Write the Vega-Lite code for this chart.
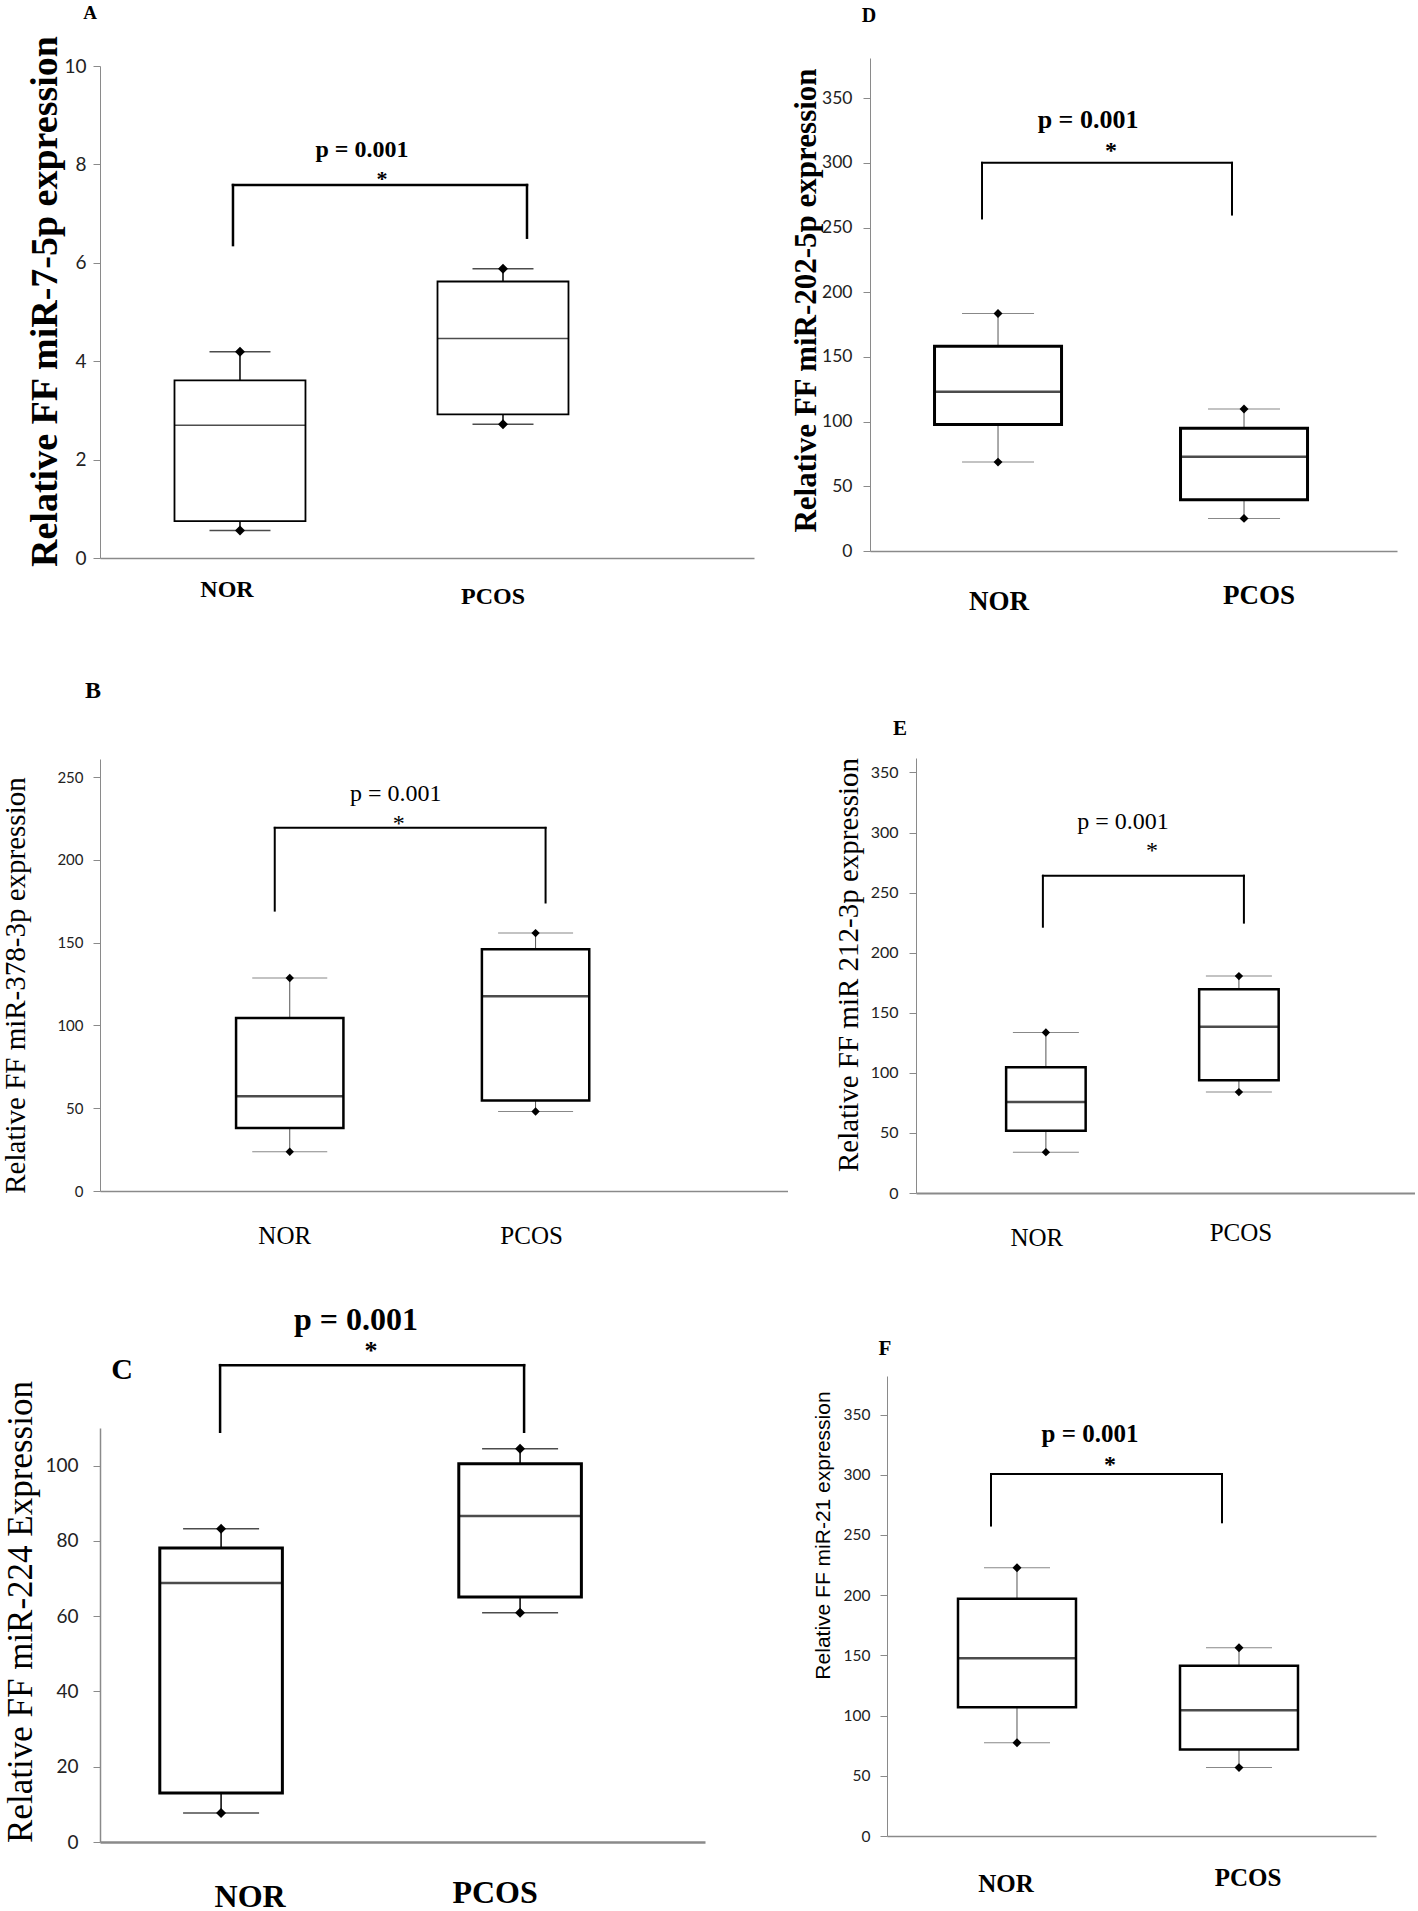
{
"$schema": "https://vega.github.io/schema/vega-lite/v6.json",
"background": "white",
"padding": 0,
"config": {"view": {"stroke": null}, "axis": {"grid": false}},
"datasets": {
"boxA": [{"group":"NOR","low":0.56,"q1":0.75,"median":2.7,"q3":3.61,"high":4.19},{"group":"PCOS","low":2.72,"q1":2.92,"median":4.46,"q3":5.62,"high":5.88}],
"sigA": [{"group":"NOR","group2":"PCOS","top":7.58,"legL":6.36,"legR":6.51,"pY":8.3,"starY":7.7,"label":"p = 0.001"}],
"boxB": [{"group":"NOR","low":23.7,"q1":38,"median":57.2,"q3":104.5,"high":128.7},{"group":"PCOS","low":48,"q1":54.7,"median":117.6,"q3":146,"high":155.8}],
"sigB": [{"group":"NOR","group2":"PCOS","top":219.4,"legL":169.4,"legR":174.3,"pY":239.6,"starY":222,"label":"p = 0.001"}],
"boxC": [{"group":"NOR","low":7.7,"q1":13,"median":68.8,"q3":78.1,"high":83.2},{"group":"PCOS","low":60.9,"q1":65.1,"median":86.6,"q3":100.5,"high":104.5}],
"sigC": [{"group":"NOR","group2":"PCOS","top":126.7,"legL":109,"legR":109,"pY":138.8,"starY":130.5,"label":"p = 0.001"}],
"boxD": [{"group":"NOR","low":68.7,"q1":97.7,"median":123,"q3":158.3,"high":183.5},{"group":"PCOS","low":25.2,"q1":39.7,"median":72.8,"q3":94.9,"high":109.7}],
"sigD": [{"group":"NOR","group2":"PCOS","top":300,"legL":257,"legR":260,"pY":333,"starY":309,"label":"p = 0.001"}],
"boxE": [{"group":"NOR","low":34,"q1":51.7,"median":75.8,"q3":104.7,"high":133.6},{"group":"PCOS","low":84,"q1":93.8,"median":138.3,"q3":169.6,"high":180.5}],
"sigE": [{"group":"NOR","group2":"PCOS","top":264,"legL":221.6,"legR":225,"pY":308.6,"starY":285,"label":"p = 0.001"}],
"boxF": [{"group":"NOR","low":77.5,"q1":106.9,"median":147.6,"q3":197,"high":222.8},{"group":"PCOS","low":56.8,"q1":71.8,"median":104.5,"q3":141.3,"high":156.3}],
"sigF": [{"group":"NOR","group2":"PCOS","top":300.6,"legL":257.8,"legR":260.5,"pY":334,"starY":308,"label":"p = 0.001"}]
},
"spacing": 0,
"hconcat": [
{"spacing": 0, "vconcat": [
{"width": 1, "height": 2.5, "data": {"values": []}, "mark": "point", "encoding": {}},
{"width":654,"height":492,
"title":{"text":"A","anchor":"start","frame":"group","align":"center","baseline":"middle","dx":-10,"offset":3,"font":"Liberation Serif","fontWeight":"bold","fontSize":19,"color":"black"},
"encoding":{"x":{"field":"group","type":"nominal","sort":null,"scale":{"type":"band","domain":["NOR","PCOS"],"paddingInner":0.502,"paddingOuter":0.4943,"align":0.2865},"axis":{"title":null,"labelAngle":0,"ticks":false,"tickSize":0,"domainColor":"#8a8a8a","domainWidth":1.5,"labelFont":"Liberation Serif","labelFontWeight":"bold","labelFontSize":24,"labelColor":"black","labelBaseline":"middle","labelAlign":"center","labelPadding":{"condition":{"test":"datum.value === 'NOR'","value":31},"value":38},"labelOffset":{"condition":{"test":"datum.value === 'NOR'","value":-13},"value":-10}}}},
"layer":[
{"data":{"name":"boxA"},"mark":{"type":"rule","color":"black","strokeWidth":1.5},"encoding":{"y":{"field":"low","type":"quantitative","scale":{"domain":[0,10],"nice":false},"axis":{"values":[0,2,4,6,8,10],"title":"Relative FF miR-7-5p expression","titleFont":"Liberation Serif","titleFontWeight":"bold","titleFontSize":38,"titleColor":"black","titleX":-55,"titleY":235,"titleAngle":-90,"titleAlign":"center","titleBaseline":"middle","labelFont":"Lato","labelFontSize":19,"labelColor":"#222","labelPadding":7,"tickSize":7,"tickColor":"#8a8a8a","domainColor":"#8a8a8a","domainWidth":1,"grid":false}},"y2":{"field":"high"}}},
{"data":{"name":"boxA"},"mark":{"type":"bar","fill":"white","stroke":"black","strokeWidth":1.8},"encoding":{"y":{"field":"q1","type":"quantitative","scale":{"domain":[0,10],"nice":false}},"y2":{"field":"q3"}}},
{"data":{"name":"boxA"},"mark":{"type":"tick","color":"black","thickness":1.5,"size":131},"encoding":{"y":{"field":"median","type":"quantitative","scale":{"domain":[0,10],"nice":false}}}},
{"data":{"name":"boxA"},"mark":{"type":"tick","color":"black","thickness":1.5,"size":61},"encoding":{"y":{"field":"low","type":"quantitative","scale":{"domain":[0,10],"nice":false}}}},
{"data":{"name":"boxA"},"mark":{"type":"tick","color":"black","thickness":1.5,"size":61},"encoding":{"y":{"field":"high","type":"quantitative","scale":{"domain":[0,10],"nice":false}}}},
{"data":{"name":"boxA"},"mark":{"type":"point","shape":"diamond","filled":true,"color":"black","opacity":1,"size":100},"encoding":{"y":{"field":"low","type":"quantitative","scale":{"domain":[0,10],"nice":false}}}},
{"data":{"name":"boxA"},"mark":{"type":"point","shape":"diamond","filled":true,"color":"black","opacity":1,"size":100},"encoding":{"y":{"field":"high","type":"quantitative","scale":{"domain":[0,10],"nice":false}}}},
{"data":{"name":"sigA"},"mark":{"type":"rule","color":"black","strokeWidth":2.5,"strokeCap":"square","xOffset":-7},"encoding":{"y":{"field":"legL","type":"quantitative","scale":{"domain":[0,10],"nice":false}},"y2":{"field":"top"}}},
{"data":{"name":"sigA"},"mark":{"type":"rule","color":"black","strokeWidth":2.5,"strokeCap":"square","xOffset":24},"encoding":{"x":{"field":"group2","type":"nominal","title":null},"y":{"field":"legR","type":"quantitative","scale":{"domain":[0,10],"nice":false}},"y2":{"field":"top"}}},
{"data":{"name":"sigA"},"mark":{"type":"rule","color":"black","strokeWidth":2.5,"strokeCap":"square","xOffset":-7,"x2Offset":24},"encoding":{"x2":{"field":"group2","title":null},"y":{"field":"top","type":"quantitative","scale":{"domain":[0,10],"nice":false}}}},
{"data":{"name":"sigA"},"mark":{"type":"text","font":"Liberation Serif","fontWeight":"bold","fontSize":24,"dx":122,"align":"center","baseline":"middle","color":"black"},"encoding":{"y":{"field":"pY","type":"quantitative","scale":{"domain":[0,10],"nice":false}},"text":{"field":"label"}}},
{"data":{"name":"sigA"},"mark":{"type":"text","font":"Liberation Serif","fontWeight":"bold","fontSize":22,"dx":142,"align":"center","baseline":"middle","color":"black"},"encoding":{"y":{"field":"starY","type":"quantitative","scale":{"domain":[0,10],"nice":false}},"text":{"value":"*"}}}
]},
{"width": 1, "height": 69.5, "data": {"values": []}, "mark": "point", "encoding": {}},
{"width":687.5,"height":432,
"title":{"text":"B","anchor":"start","frame":"group","align":"center","baseline":"middle","dx":-7,"offset":44.5,"font":"Liberation Serif","fontWeight":"bold","fontSize":24,"color":"black"},
"encoding":{"x":{"field":"group","type":"nominal","sort":null,"scale":{"type":"band","domain":["NOR","PCOS"],"paddingInner":0.5633,"paddingOuter":0.68,"align":0.407},"axis":{"title":null,"labelAngle":0,"ticks":false,"tickSize":0,"domainColor":"#8a8a8a","domainWidth":1.5,"labelFont":"Liberation Serif","labelFontWeight":"normal","labelFontSize":25,"labelColor":"black","labelBaseline":"middle","labelAlign":"center","labelPadding":44,"labelOffset":{"condition":{"test":"datum.value === 'NOR'","value":-5},"value":-4}}}},
"layer":[
{"data":{"name":"boxB"},"mark":{"type":"rule","color":"#555","strokeWidth":1},"encoding":{"y":{"field":"low","type":"quantitative","scale":{"domain":[0,261],"nice":false},"axis":{"values":[0,50,100,150,200,250],"title":"Relative FF miR-378-3p expression","titleFont":"Liberation Serif","titleFontWeight":"normal","titleFontSize":29,"titleColor":"black","titleX":-85,"titleY":226,"titleAngle":-90,"titleAlign":"center","titleBaseline":"middle","labelFont":"Lato","labelFontSize":15,"labelColor":"#222","labelPadding":10,"tickSize":7,"tickColor":"#8a8a8a","domainColor":"#8a8a8a","domainWidth":1,"grid":false}},"y2":{"field":"high"}}},
{"data":{"name":"boxB"},"mark":{"type":"bar","fill":"white","stroke":"black","strokeWidth":2.5},"encoding":{"y":{"field":"q1","type":"quantitative","scale":{"domain":[0,261],"nice":false}},"y2":{"field":"q3"}}},
{"data":{"name":"boxB"},"mark":{"type":"tick","color":"black","thickness":2.5,"size":107},"encoding":{"y":{"field":"median","type":"quantitative","scale":{"domain":[0,261],"nice":false}}}},
{"data":{"name":"boxB"},"mark":{"type":"tick","color":"#555","thickness":1,"size":75},"encoding":{"y":{"field":"low","type":"quantitative","scale":{"domain":[0,261],"nice":false}}}},
{"data":{"name":"boxB"},"mark":{"type":"tick","color":"#555","thickness":1,"size":75},"encoding":{"y":{"field":"high","type":"quantitative","scale":{"domain":[0,261],"nice":false}}}},
{"data":{"name":"boxB"},"mark":{"type":"point","shape":"diamond","filled":true,"color":"black","opacity":1,"size":70},"encoding":{"y":{"field":"low","type":"quantitative","scale":{"domain":[0,261],"nice":false}}}},
{"data":{"name":"boxB"},"mark":{"type":"point","shape":"diamond","filled":true,"color":"black","opacity":1,"size":70},"encoding":{"y":{"field":"high","type":"quantitative","scale":{"domain":[0,261],"nice":false}}}},
{"data":{"name":"sigB"},"mark":{"type":"rule","color":"black","strokeWidth":2,"strokeCap":"square","xOffset":-15},"encoding":{"y":{"field":"legL","type":"quantitative","scale":{"domain":[0,261],"nice":false}},"y2":{"field":"top"}}},
{"data":{"name":"sigB"},"mark":{"type":"rule","color":"black","strokeWidth":2,"strokeCap":"square","xOffset":10},"encoding":{"x":{"field":"group2","type":"nominal","title":null},"y":{"field":"legR","type":"quantitative","scale":{"domain":[0,261],"nice":false}},"y2":{"field":"top"}}},
{"data":{"name":"sigB"},"mark":{"type":"rule","color":"black","strokeWidth":2,"strokeCap":"square","xOffset":-15,"x2Offset":10},"encoding":{"x2":{"field":"group2","title":null},"y":{"field":"top","type":"quantitative","scale":{"domain":[0,261],"nice":false}}}},
{"data":{"name":"sigB"},"mark":{"type":"text","font":"Liberation Serif","fontWeight":"normal","fontSize":24,"dx":106,"align":"center","baseline":"middle","color":"black"},"encoding":{"y":{"field":"pY","type":"quantitative","scale":{"domain":[0,261],"nice":false}},"text":{"field":"label"}}},
{"data":{"name":"sigB"},"mark":{"type":"text","font":"Liberation Serif","fontWeight":"normal","fontSize":24,"dx":109,"align":"center","baseline":"middle","color":"black"},"encoding":{"y":{"field":"starY","type":"quantitative","scale":{"domain":[0,261],"nice":false}},"text":{"value":"*"}}}
]},
{"width": 1, "height": 55, "data": {"values": []}, "mark": "point", "encoding": {}},
{"width":605,"height":414,
"title":{"text":"C","anchor":"start","frame":"group","align":"center","baseline":"middle","dx":22,"offset":-96,"font":"Liberation Serif","fontWeight":"bold","fontSize":30,"color":"black"},
"encoding":{"x":{"field":"group","type":"nominal","sort":null,"scale":{"type":"band","domain":["NOR","PCOS"],"paddingInner":0.59,"paddingOuter":0.3067,"align":0.326},"axis":{"title":null,"labelAngle":0,"ticks":false,"tickSize":0,"domainColor":"#8a8a8a","domainWidth":2.5,"labelFont":"Liberation Serif","labelFontWeight":"bold","labelFontSize":32,"labelColor":"black","labelBaseline":"middle","labelAlign":"center","labelPadding":{"condition":{"test":"datum.value === 'NOR'","value":54},"value":50},"labelOffset":{"condition":{"test":"datum.value === 'NOR'","value":29},"value":-25}}}},
"layer":[
{"data":{"name":"boxC"},"mark":{"type":"rule","color":"black","strokeWidth":1.5},"encoding":{"y":{"field":"low","type":"quantitative","scale":{"domain":[0,110],"nice":false},"axis":{"values":[0,20,40,60,80,100],"title":"Relative FF miR-224 Expression","titleFont":"Liberation Serif","titleFontWeight":"normal","titleFontSize":35,"titleColor":"black","titleX":-80,"titleY":183.5,"titleAngle":-90,"titleAlign":"center","titleBaseline":"middle","labelFont":"Lato","labelFontSize":19,"labelColor":"#222","labelPadding":15,"tickSize":7,"tickColor":"#8a8a8a","domainColor":"#8a8a8a","domainWidth":1.5,"grid":false}},"y2":{"field":"high"}}},
{"data":{"name":"boxC"},"mark":{"type":"bar","fill":"white","stroke":"black","strokeWidth":3},"encoding":{"y":{"field":"q1","type":"quantitative","scale":{"domain":[0,110],"nice":false}},"y2":{"field":"q3"}}},
{"data":{"name":"boxC"},"mark":{"type":"tick","color":"black","thickness":2.5,"size":122.5},"encoding":{"y":{"field":"median","type":"quantitative","scale":{"domain":[0,110],"nice":false}}}},
{"data":{"name":"boxC"},"mark":{"type":"tick","color":"black","thickness":1.5,"size":76},"encoding":{"y":{"field":"low","type":"quantitative","scale":{"domain":[0,110],"nice":false}}}},
{"data":{"name":"boxC"},"mark":{"type":"tick","color":"black","thickness":1.5,"size":76},"encoding":{"y":{"field":"high","type":"quantitative","scale":{"domain":[0,110],"nice":false}}}},
{"data":{"name":"boxC"},"mark":{"type":"point","shape":"diamond","filled":true,"color":"black","opacity":1,"size":100},"encoding":{"y":{"field":"low","type":"quantitative","scale":{"domain":[0,110],"nice":false}}}},
{"data":{"name":"boxC"},"mark":{"type":"point","shape":"diamond","filled":true,"color":"black","opacity":1,"size":100},"encoding":{"y":{"field":"high","type":"quantitative","scale":{"domain":[0,110],"nice":false}}}},
{"data":{"name":"sigC"},"mark":{"type":"rule","color":"black","strokeWidth":2.5,"strokeCap":"square","xOffset":-1},"encoding":{"y":{"field":"legL","type":"quantitative","scale":{"domain":[0,110],"nice":false}},"y2":{"field":"top"}}},
{"data":{"name":"sigC"},"mark":{"type":"rule","color":"black","strokeWidth":2.5,"strokeCap":"square","xOffset":4},"encoding":{"x":{"field":"group2","type":"nominal","title":null},"y":{"field":"legR","type":"quantitative","scale":{"domain":[0,110],"nice":false}},"y2":{"field":"top"}}},
{"data":{"name":"sigC"},"mark":{"type":"rule","color":"black","strokeWidth":2.5,"strokeCap":"square","xOffset":-1,"x2Offset":4},"encoding":{"x2":{"field":"group2","title":null},"y":{"field":"top","type":"quantitative","scale":{"domain":[0,110],"nice":false}}}},
{"data":{"name":"sigC"},"mark":{"type":"text","font":"Liberation Serif","fontWeight":"bold","fontSize":32,"dx":135,"align":"center","baseline":"middle","color":"black"},"encoding":{"y":{"field":"pY","type":"quantitative","scale":{"domain":[0,110],"nice":false}},"text":{"field":"label"}}},
{"data":{"name":"sigC"},"mark":{"type":"text","font":"Liberation Serif","fontWeight":"bold","fontSize":26,"dx":150,"align":"center","baseline":"middle","color":"black"},"encoding":{"y":{"field":"starY","type":"quantitative","scale":{"domain":[0,110],"nice":false}},"text":{"value":"*"}}}
]}
]},
{"spacing": 0, "vconcat": [
{"width": 1, "height": 5.6, "data": {"values": []}, "mark": "point", "encoding": {}},
{"spacing": 0, "hconcat": [
{"width": 1, "height": 1, "data": {"values": []}, "mark": "point", "encoding": {}},
{"width":527,"height":493,
"title":{"text":"D","anchor":"start","frame":"group","align":"center","baseline":"middle","dx":-1,"offset":22,"font":"Liberation Serif","fontWeight":"bold","fontSize":20,"color":"black"},
"encoding":{"x":{"field":"group","type":"nominal","sort":null,"scale":{"type":"band","domain":["NOR","PCOS"],"paddingInner":0.4837,"paddingOuter":0.313,"align":0.419},"axis":{"title":null,"labelAngle":0,"ticks":false,"tickSize":0,"domainColor":"#8a8a8a","domainWidth":1.5,"labelFont":"Liberation Serif","labelFontWeight":"bold","labelFontSize":27,"labelColor":"black","labelBaseline":"middle","labelAlign":"center","labelPadding":{"condition":{"test":"datum.value === 'NOR'","value":50},"value":44},"labelOffset":{"condition":{"test":"datum.value === 'NOR'","value":1},"value":15}}}},
"layer":[
{"data":{"name":"boxD"},"mark":{"type":"rule","color":"#555","strokeWidth":1},"encoding":{"y":{"field":"low","type":"quantitative","scale":{"domain":[0,381],"nice":false},"axis":{"values":[0,50,100,150,200,250,300,350],"title":"Relative FF miR-202-5p expression","titleFont":"Liberation Serif","titleFontWeight":"bold","titleFontSize":31,"titleColor":"black","titleX":-64,"titleY":242,"titleAngle":-90,"titleAlign":"center","titleBaseline":"middle","labelFont":"Lato","labelFontSize":17.5,"labelColor":"#222","labelPadding":11,"tickSize":7,"tickColor":"#8a8a8a","domainColor":"#8a8a8a","domainWidth":1,"grid":false}},"y2":{"field":"high"}}},
{"data":{"name":"boxD"},"mark":{"type":"bar","fill":"white","stroke":"black","strokeWidth":3},"encoding":{"y":{"field":"q1","type":"quantitative","scale":{"domain":[0,381],"nice":false}},"y2":{"field":"q3"}}},
{"data":{"name":"boxD"},"mark":{"type":"tick","color":"black","thickness":2.5,"size":127},"encoding":{"y":{"field":"median","type":"quantitative","scale":{"domain":[0,381],"nice":false}}}},
{"data":{"name":"boxD"},"mark":{"type":"tick","color":"#555","thickness":1,"size":72},"encoding":{"y":{"field":"low","type":"quantitative","scale":{"domain":[0,381],"nice":false}}}},
{"data":{"name":"boxD"},"mark":{"type":"tick","color":"#555","thickness":1,"size":72},"encoding":{"y":{"field":"high","type":"quantitative","scale":{"domain":[0,381],"nice":false}}}},
{"data":{"name":"boxD"},"mark":{"type":"point","shape":"diamond","filled":true,"color":"black","opacity":1,"size":80},"encoding":{"y":{"field":"low","type":"quantitative","scale":{"domain":[0,381],"nice":false}}}},
{"data":{"name":"boxD"},"mark":{"type":"point","shape":"diamond","filled":true,"color":"black","opacity":1,"size":80},"encoding":{"y":{"field":"high","type":"quantitative","scale":{"domain":[0,381],"nice":false}}}},
{"data":{"name":"sigD"},"mark":{"type":"rule","color":"black","strokeWidth":2,"strokeCap":"square","xOffset":-16},"encoding":{"y":{"field":"legL","type":"quantitative","scale":{"domain":[0,381],"nice":false}},"y2":{"field":"top"}}},
{"data":{"name":"sigD"},"mark":{"type":"rule","color":"black","strokeWidth":2,"strokeCap":"square","xOffset":-12},"encoding":{"x":{"field":"group2","type":"nominal","title":null},"y":{"field":"legR","type":"quantitative","scale":{"domain":[0,381],"nice":false}},"y2":{"field":"top"}}},
{"data":{"name":"sigD"},"mark":{"type":"rule","color":"black","strokeWidth":2,"strokeCap":"square","xOffset":-16,"x2Offset":-12},"encoding":{"x2":{"field":"group2","title":null},"y":{"field":"top","type":"quantitative","scale":{"domain":[0,381],"nice":false}}}},
{"data":{"name":"sigD"},"mark":{"type":"text","font":"Liberation Serif","fontWeight":"bold","fontSize":26,"dx":90,"align":"center","baseline":"middle","color":"black"},"encoding":{"y":{"field":"pY","type":"quantitative","scale":{"domain":[0,381],"nice":false}},"text":{"field":"label"}}},
{"data":{"name":"sigD"},"mark":{"type":"text","font":"Liberation Serif","fontWeight":"bold","fontSize":24,"dx":113,"align":"center","baseline":"middle","color":"black"},"encoding":{"y":{"field":"starY","type":"quantitative","scale":{"domain":[0,381],"nice":false}},"text":{"value":"*"}}}
]}
]},
{"width": 1, "height": 103.4, "data": {"values": []}, "mark": "point", "encoding": {}},
{"spacing": 0, "hconcat": [
{"width": 44.5, "height": 1, "data": {"values": []}, "mark": "point", "encoding": {}},
{"width":499,"height":435,
"title":{"text":"E","anchor":"start","frame":"group","align":"center","baseline":"middle","dx":-16,"offset":7,"font":"Liberation Serif","fontWeight":"bold","fontSize":21,"color":"black"},
"encoding":{"x":{"field":"group","type":"nominal","sort":null,"scale":{"type":"band","domain":["NOR","PCOS"],"paddingInner":0.588,"paddingOuter":0.5866,"align":0.398},"axis":{"title":null,"labelAngle":0,"ticks":false,"tickSize":0,"domainColor":"#8a8a8a","domainWidth":2,"labelFont":"Liberation Serif","labelFontWeight":"normal","labelFontSize":25,"labelColor":"black","labelBaseline":"middle","labelAlign":"center","labelPadding":{"condition":{"test":"datum.value === 'NOR'","value":44},"value":39},"labelOffset":{"condition":{"test":"datum.value === 'NOR'","value":-9},"value":2}}}},
"layer":[
{"data":{"name":"boxE"},"mark":{"type":"rule","color":"#555","strokeWidth":1},"encoding":{"y":{"field":"low","type":"quantitative","scale":{"domain":[0,362],"nice":false},"axis":{"values":[0,50,100,150,200,250,300,350],"title":"Relative FF miR 212-3p expression","titleFont":"Liberation Serif","titleFontWeight":"normal","titleFontSize":29,"titleColor":"black","titleX":-68,"titleY":206.5,"titleAngle":-90,"titleAlign":"center","titleBaseline":"middle","labelFont":"Lato","labelFontSize":16,"labelColor":"#222","labelPadding":11,"tickSize":7,"tickColor":"#8a8a8a","domainColor":"#8a8a8a","domainWidth":1,"grid":false}},"y2":{"field":"high"}}},
{"data":{"name":"boxE"},"mark":{"type":"bar","fill":"white","stroke":"black","strokeWidth":2.5},"encoding":{"y":{"field":"q1","type":"quantitative","scale":{"domain":[0,362],"nice":false}},"y2":{"field":"q3"}}},
{"data":{"name":"boxE"},"mark":{"type":"tick","color":"black","thickness":2.5,"size":79.5},"encoding":{"y":{"field":"median","type":"quantitative","scale":{"domain":[0,362],"nice":false}}}},
{"data":{"name":"boxE"},"mark":{"type":"tick","color":"#555","thickness":1,"size":66},"encoding":{"y":{"field":"low","type":"quantitative","scale":{"domain":[0,362],"nice":false}}}},
{"data":{"name":"boxE"},"mark":{"type":"tick","color":"#555","thickness":1,"size":66},"encoding":{"y":{"field":"high","type":"quantitative","scale":{"domain":[0,362],"nice":false}}}},
{"data":{"name":"boxE"},"mark":{"type":"point","shape":"diamond","filled":true,"color":"black","opacity":1,"size":70},"encoding":{"y":{"field":"low","type":"quantitative","scale":{"domain":[0,362],"nice":false}}}},
{"data":{"name":"boxE"},"mark":{"type":"point","shape":"diamond","filled":true,"color":"black","opacity":1,"size":70},"encoding":{"y":{"field":"high","type":"quantitative","scale":{"domain":[0,362],"nice":false}}}},
{"data":{"name":"sigE"},"mark":{"type":"rule","color":"black","strokeWidth":2,"strokeCap":"square","xOffset":-3},"encoding":{"y":{"field":"legL","type":"quantitative","scale":{"domain":[0,362],"nice":false}},"y2":{"field":"top"}}},
{"data":{"name":"sigE"},"mark":{"type":"rule","color":"black","strokeWidth":2,"strokeCap":"square","xOffset":5},"encoding":{"x":{"field":"group2","type":"nominal","title":null},"y":{"field":"legR","type":"quantitative","scale":{"domain":[0,362],"nice":false}},"y2":{"field":"top"}}},
{"data":{"name":"sigE"},"mark":{"type":"rule","color":"black","strokeWidth":2,"strokeCap":"square","xOffset":-3,"x2Offset":5},"encoding":{"x2":{"field":"group2","title":null},"y":{"field":"top","type":"quantitative","scale":{"domain":[0,362],"nice":false}}}},
{"data":{"name":"sigE"},"mark":{"type":"text","font":"Liberation Serif","fontWeight":"normal","fontSize":24,"dx":77,"align":"center","baseline":"middle","color":"black"},"encoding":{"y":{"field":"pY","type":"quantitative","scale":{"domain":[0,362],"nice":false}},"text":{"field":"label"}}},
{"data":{"name":"sigE"},"mark":{"type":"text","font":"Liberation Serif","fontWeight":"normal","fontSize":24,"dx":106,"align":"center","baseline":"middle","color":"black"},"encoding":{"y":{"field":"starY","type":"quantitative","scale":{"domain":[0,362],"nice":false}},"text":{"value":"*"}}}
]}
]},
{"width": 1, "height": 86.5, "data": {"values": []}, "mark": "point", "encoding": {}},
{"spacing": 0, "hconcat": [
{"width": 23.5, "height": 1, "data": {"values": []}, "mark": "point", "encoding": {}},
{"width":489,"height":460,
"title":{"text":"F","anchor":"start","frame":"group","align":"center","baseline":"middle","dx":-2,"offset":6.5,"font":"Liberation Serif","fontWeight":"bold","fontSize":21,"color":"black"},
"encoding":{"x":{"field":"group","type":"nominal","sort":null,"scale":{"type":"band","domain":["NOR","PCOS"],"paddingInner":0.4685,"paddingOuter":0.3356,"align":0.4765},"axis":{"title":null,"labelAngle":0,"ticks":false,"tickSize":0,"domainColor":"#8a8a8a","domainWidth":1.5,"labelFont":"Liberation Serif","labelFontWeight":"bold","labelFontSize":25,"labelColor":"black","labelBaseline":"middle","labelAlign":"center","labelPadding":{"condition":{"test":"datum.value === 'NOR'","value":47},"value":41},"labelOffset":{"condition":{"test":"datum.value === 'NOR'","value":-11},"value":9}}}},
"layer":[
{"data":{"name":"boxF"},"mark":{"type":"rule","color":"#555","strokeWidth":1},"encoding":{"y":{"field":"low","type":"quantitative","scale":{"domain":[0,382],"nice":false},"axis":{"values":[0,50,100,150,200,250,300,350],"title":"Relative FF miR-21 expression","titleFont":"Liberation Sans","titleFontWeight":"normal","titleFontSize":21,"titleColor":"black","titleX":-64,"titleY":159,"titleAngle":-90,"titleAlign":"center","titleBaseline":"middle","labelFont":"Lato","labelFontSize":15.5,"labelColor":"#222","labelPadding":10,"tickSize":7,"tickColor":"#8a8a8a","domainColor":"#8a8a8a","domainWidth":1,"grid":false}},"y2":{"field":"high"}}},
{"data":{"name":"boxF"},"mark":{"type":"bar","fill":"white","stroke":"black","strokeWidth":2.5},"encoding":{"y":{"field":"q1","type":"quantitative","scale":{"domain":[0,382],"nice":false}},"y2":{"field":"q3"}}},
{"data":{"name":"boxF"},"mark":{"type":"tick","color":"black","thickness":2.5,"size":118},"encoding":{"y":{"field":"median","type":"quantitative","scale":{"domain":[0,382],"nice":false}}}},
{"data":{"name":"boxF"},"mark":{"type":"tick","color":"#555","thickness":1,"size":66},"encoding":{"y":{"field":"low","type":"quantitative","scale":{"domain":[0,382],"nice":false}}}},
{"data":{"name":"boxF"},"mark":{"type":"tick","color":"#555","thickness":1,"size":66},"encoding":{"y":{"field":"high","type":"quantitative","scale":{"domain":[0,382],"nice":false}}}},
{"data":{"name":"boxF"},"mark":{"type":"point","shape":"diamond","filled":true,"color":"black","opacity":1,"size":80},"encoding":{"y":{"field":"low","type":"quantitative","scale":{"domain":[0,382],"nice":false}}}},
{"data":{"name":"boxF"},"mark":{"type":"point","shape":"diamond","filled":true,"color":"black","opacity":1,"size":80},"encoding":{"y":{"field":"high","type":"quantitative","scale":{"domain":[0,382],"nice":false}}}},
{"data":{"name":"sigF"},"mark":{"type":"rule","color":"black","strokeWidth":2,"strokeCap":"square","xOffset":-26},"encoding":{"y":{"field":"legL","type":"quantitative","scale":{"domain":[0,382],"nice":false}},"y2":{"field":"top"}}},
{"data":{"name":"sigF"},"mark":{"type":"rule","color":"black","strokeWidth":2,"strokeCap":"square","xOffset":-17},"encoding":{"x":{"field":"group2","type":"nominal","title":null},"y":{"field":"legR","type":"quantitative","scale":{"domain":[0,382],"nice":false}},"y2":{"field":"top"}}},
{"data":{"name":"sigF"},"mark":{"type":"rule","color":"black","strokeWidth":2,"strokeCap":"square","xOffset":-26,"x2Offset":-17},"encoding":{"x2":{"field":"group2","title":null},"y":{"field":"top","type":"quantitative","scale":{"domain":[0,382],"nice":false}}}},
{"data":{"name":"sigF"},"mark":{"type":"text","font":"Liberation Serif","fontWeight":"bold","fontSize":25,"dx":73,"align":"center","baseline":"middle","color":"black"},"encoding":{"y":{"field":"pY","type":"quantitative","scale":{"domain":[0,382],"nice":false}},"text":{"field":"label"}}},
{"data":{"name":"sigF"},"mark":{"type":"text","font":"Liberation Serif","fontWeight":"bold","fontSize":24,"dx":93,"align":"center","baseline":"middle","color":"black"},"encoding":{"y":{"field":"starY","type":"quantitative","scale":{"domain":[0,382],"nice":false}},"text":{"value":"*"}}}
]}
]}
]}
]
}
